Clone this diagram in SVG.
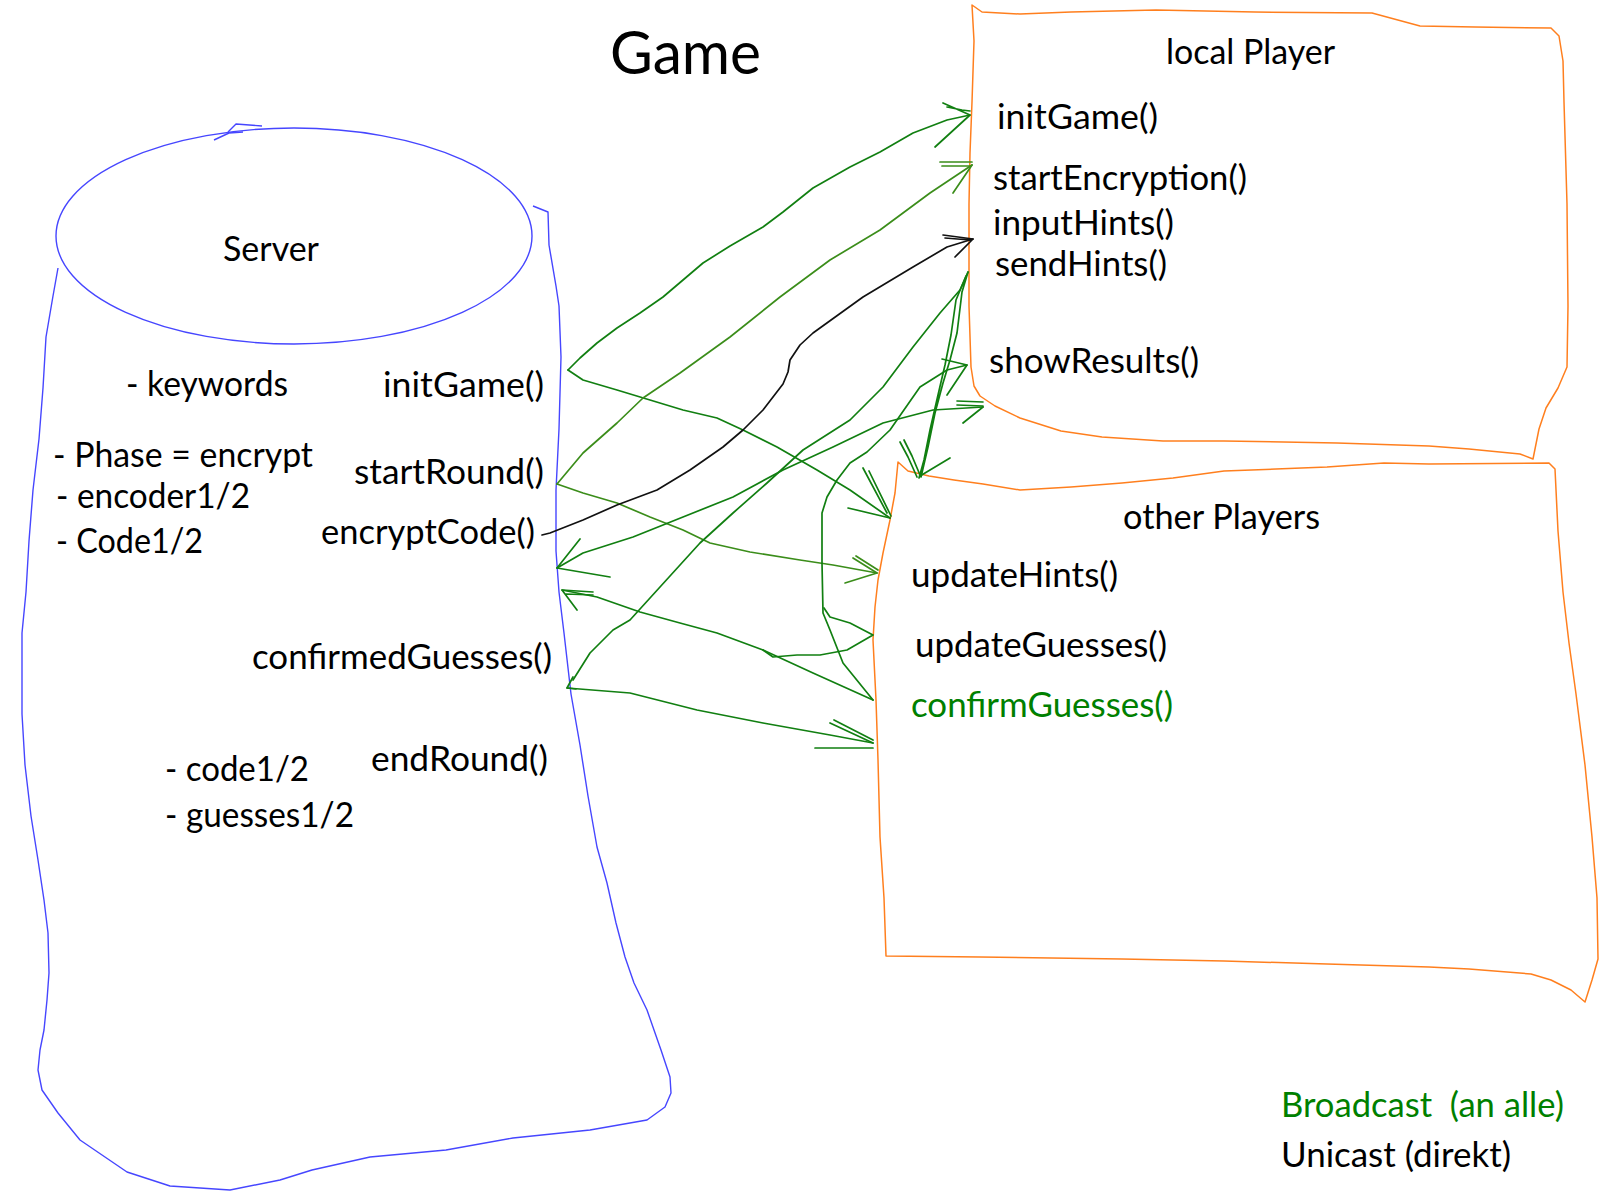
<svg xmlns="http://www.w3.org/2000/svg" width="1600" height="1200" viewBox="0 0 1600 1200">
<style>
  text { font-family: Lato, "Liberation Sans", sans-serif; font-size: 35px; fill: #000; }
  .title { font-size: 60px; }
  .gtext { fill: #008000; }
  .blue { fill: none; stroke: #4646ff; stroke-width: 1.4; stroke-linejoin: round; }
  .orange { fill: none; stroke: #ff7f1e; stroke-width: 1.5; stroke-linejoin: round; }
  .g { fill: none; stroke: #117f11; stroke-width: 1.7; stroke-linejoin: round; stroke-linecap: round; }
  .o { fill: none; stroke: #3b8d1a; stroke-width: 1.7; stroke-linejoin: round; stroke-linecap: round; }
  .k { fill: none; stroke: #111; stroke-width: 1.7; stroke-linejoin: round; stroke-linecap: round; }
</style>
<rect width="1600" height="1200" fill="#fff"/>

<g id="title">
  <text class="title" x="610" y="74" textLength="151" lengthAdjust="spacingAndGlyphs">Game</text>
</g>

<g id="server">
  <ellipse class="blue" cx="294" cy="236" rx="238" ry="108"/>
  <path class="blue" d="M214,140 L229,133 L243,132 M228,132 L236,124 L262,126"/>
  <path class="blue" d="M58,268 L53,296 L46,337 L43,388 L39,439 L33,490 L29,541 L26,592 L22,633 L22,714 L25,765 L31,816 L38,860 L44,900 L48,933 L49,973 L47,1000 L44,1030 L40,1050 L38,1070 L42,1090 L58,1113 L80,1140 L127,1172 L170,1186 L230,1190 L280,1180 L312,1170 L370,1157 L446,1150 L513,1138 L590,1130 L647,1120 L665,1107 L671,1093 L670,1077 L661,1050 L647,1010 L634,983 L625,957 L616,923 L607,883 L597,847 L588,796 L580,745 L571,694 L564,633 L559,592 L556,551 L556,490 L559,429 L561,357 L559,306 L556,286 L549,245 L548,212 L533,206"/>
  <text x="223" y="261" textLength="96" lengthAdjust="spacingAndGlyphs">Server</text>
  <text x="126" y="396" textLength="162" lengthAdjust="spacingAndGlyphs">- keywords</text>
  <text x="383" y="397" textLength="161" lengthAdjust="spacingAndGlyphs">initGame()</text>
  <text x="53" y="467" textLength="260" lengthAdjust="spacingAndGlyphs">- Phase = encrypt</text>
  <text x="354" y="484" textLength="190" lengthAdjust="spacingAndGlyphs">startRound()</text>
  <text x="56" y="508" textLength="194" lengthAdjust="spacingAndGlyphs">- encoder1/2</text>
  <text x="56" y="553" textLength="147" lengthAdjust="spacingAndGlyphs">- Code1/2</text>
  <text x="321" y="544" textLength="214" lengthAdjust="spacingAndGlyphs">encryptCode()</text>
  <text x="252" y="669" textLength="300" lengthAdjust="spacingAndGlyphs">confirmedGuesses()</text>
  <text x="165" y="781" textLength="144" lengthAdjust="spacingAndGlyphs">- code1/2</text>
  <text x="371" y="771" textLength="177" lengthAdjust="spacingAndGlyphs">endRound()</text>
  <text x="165" y="827" textLength="189" lengthAdjust="spacingAndGlyphs">- guesses1/2</text>
</g>

<g id="local-player">
  <path class="orange" d="M972,5 L982,12 L1020,14 L1071,12 L1156,10 L1255,12 L1372,13 L1420,26 L1475,27 L1551,28 L1559,36 L1563,61 L1564,102 L1567,204 L1568,306 L1567,367 L1558,388 L1546,408 L1539,429 L1533,459 L1520,454 L1469,449 L1429,446 L1337,443 L1224,441 L1163,441 L1102,437 L1061,431 L1020,418 L995,406 L980,396 L974,386 L971,367 L969,306 L969,204 L970,153 L972,102 L974,41 Z"/>
  <text x="1166" y="64" textLength="169" lengthAdjust="spacingAndGlyphs">local Player</text>
  <text x="997" y="129" textLength="161" lengthAdjust="spacingAndGlyphs">initGame()</text>
  <text x="993" y="190" textLength="254" lengthAdjust="spacingAndGlyphs">startEncryption()</text>
  <text x="993" y="235" textLength="181" lengthAdjust="spacingAndGlyphs">inputHints()</text>
  <text x="995" y="276" textLength="172" lengthAdjust="spacingAndGlyphs">sendHints()</text>
  <text x="989" y="373" textLength="210" lengthAdjust="spacingAndGlyphs">showResults()</text>
</g>

<g id="other-players">
  <path class="orange" d="M898,462 L908,471 L929,476 L954,480 L983,484 L1020,490 L1071,487 L1122,483 L1173,478 L1224,471 L1276,469 L1327,467 L1384,463 L1429,464 L1549,463 L1555,469 L1558,531 L1563,592 L1569,643 L1576,694 L1585,765 L1592,837 L1597,898 L1598,959 L1592,980 L1585,1002 L1571,990 L1551,980 L1531,974 L1469,969 L1429,967 L1327,964 L1224,961 L1122,959 L980,957 L886,956 L884,898 L880,837 L878,760 L876,700 L873,640 L875,607 L878,580 L883,553 L890,520 L895,493 Z"/>
  <text x="1123" y="529" textLength="197" lengthAdjust="spacingAndGlyphs">other Players</text>
  <text x="911" y="587" textLength="207" lengthAdjust="spacingAndGlyphs">updateHints()</text>
  <text x="915" y="657" textLength="252" lengthAdjust="spacingAndGlyphs">updateGuesses()</text>
  <text class="gtext" x="911" y="717" textLength="262" lengthAdjust="spacingAndGlyphs">confirmGuesses()</text>
</g>

<g id="legend">
  <text class="gtext" x="1281" y="1117" textLength="283" lengthAdjust="spacingAndGlyphs" xml:space="preserve">Broadcast  (an alle)</text>
  <text x="1281" y="1167" textLength="230" lengthAdjust="spacingAndGlyphs">Unicast (direkt)</text>
</g>

<g id="connectors">
  <path class="g" d="M568,370 L580,358 L597,343 L617,328 L640,313 L663,297 L683,280 L703,263 L730,246 L763,227 L783,212 L813,188 L850,167 L880,152 L913,133 L947,120 L970,115"/>
  <path class="g" d="M943,103 L970,115 L935,147 M947,107 L962,110 L970,111"/>
  <path class="g" d="M568,370 L583,380 L617,390 L650,400 L683,410 L717,418 L743,430 L777,447 L817,470 L850,490 L890,518"/>
  <path class="g" d="M863,468 L887,513 M869,471 L891,516 M848,508 L890,518"/>
  <path class="o" d="M557,484 L583,453 L617,423 L643,398 L680,373 L730,337 L780,297 L830,260 L880,230 L930,193 L972,165"/>
  <path class="o" d="M940,162 L972,162 M942,166 L970,166 M953,193 L972,165"/>
  <path class="o" d="M557,484 L583,493 L617,503 L650,517 L683,530 L710,543 L750,552 L800,560 L833,565 L877,573"/>
  <path class="o" d="M853,558 L877,573 M856,556 L878,570 M845,583 L877,573"/>
  <path class="k" d="M542,535 L550,533 L583,520 L617,505 L657,490 L690,470 L723,447 L743,430 L763,410 L783,384 L788,372 L790,360 L800,345 L813,333 L863,297 L913,267 L947,247 L973,239"/>
  <path class="k" d="M943,235 L973,239 M945,238 L970,240 M955,257 L973,239"/>
  <path class="g" d="M573,680 L590,653 L613,630 L630,620 L660,587 L700,543 L733,513 L767,483 L803,450 L850,420 L883,387 L913,347 L940,313 L960,290 L968,272"/>
  <path class="g" d="M573,677 L567,688 L576,689"/>
  <path class="g" d="M557,568 L583,553 L633,537 L683,517 L733,497 L783,470 L833,447 L883,423 L933,410 L983,407"/>
  <path class="g" d="M580,539 L557,568 L610,577 M957,401 L983,402 M957,405 L983,406 M963,423 L983,407"/>
  <path class="g" d="M873,700 L843,663 L830,630 L823,613 L822,563 L822,513 L827,497 L837,480 L850,463 L867,452 L890,430 L913,397 L920,387 L947,370 L967,365"/>
  <path class="g" d="M942,359 L967,365 L947,395"/>
  <path class="g" d="M968,272 L962,292 L957,333 L950,360 L943,383 L935,413 L928,447 L921,477 M966,276 L956,300 L951,335 L945,365 L938,395 L930,430 L924,460 L919,478"/>
  <path class="g" d="M900,442 L908,457 L917,477 M904,440 L912,456 L920,475 M920,476 L950,458"/>
  <path class="g" d="M873,635 L847,650 L820,655 L797,655 L773,657 L763,650 M873,635 L850,623 L830,617 L824,608"/>
  <path class="g" d="M873,700 L813,673 L763,650 L717,633 L680,623 L640,612 L597,597 L562,590"/>
  <path class="g" d="M593,592 L562,590 L577,610 M593,595 L566,594"/>
  <path class="g" d="M567,688 L630,693 L697,710 L763,723 L830,735 L873,743"/>
  <path class="g" d="M830,723 L873,743 M834,720 L873,740 M815,748 L873,748"/>
</g>
</svg>
